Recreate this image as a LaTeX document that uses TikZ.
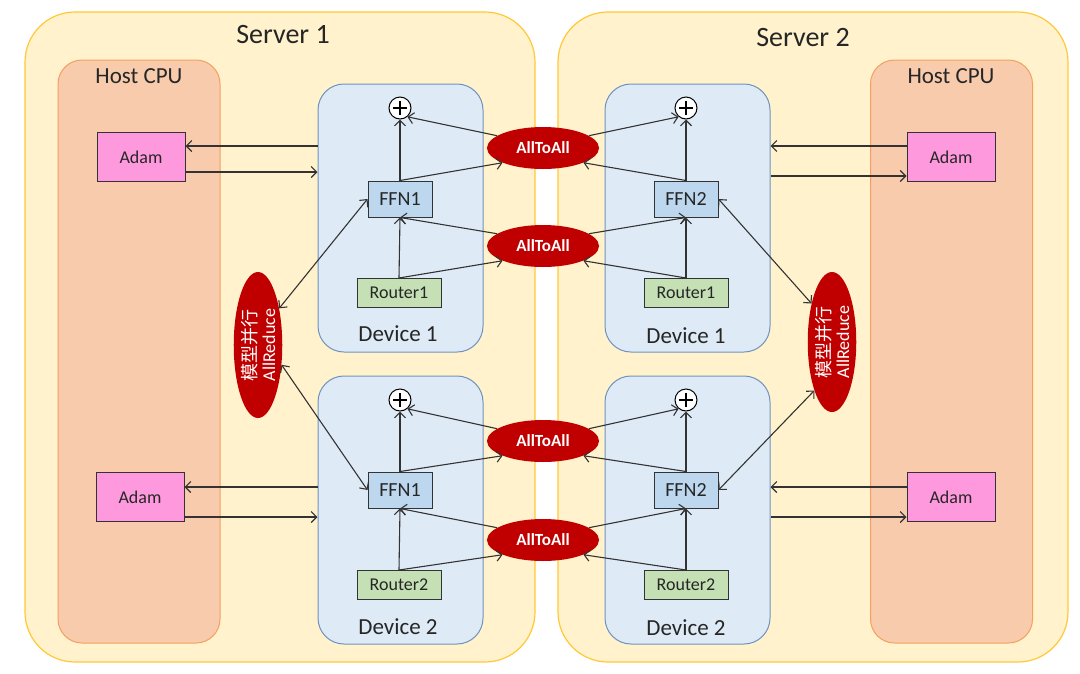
\documentclass[tikz,border=0pt]{standalone}
\usepackage{fontspec}
\setmainfont{Carlito}
\newfontfamily\cjkfont{Noto Sans CJK SC}
\usepackage{xcolor}
\usetikzlibrary{shapes.geometric,arrows.meta,calc,positioning}

\definecolor{serverfill}{HTML}{FFF2CC}
\definecolor{serverline}{HTML}{FFC936}
\definecolor{hostfill}{HTML}{F8CBAD}
\definecolor{hostline}{HTML}{F4A060}
\definecolor{devfill}{HTML}{DEEBF7}
\definecolor{devline}{HTML}{7092BE}
\definecolor{ffnfill}{HTML}{BDD7EE}
\definecolor{routerfill}{HTML}{C5E0B4}
\definecolor{adamfill}{HTML}{FF99DD}
\definecolor{commred}{HTML}{C00000}
\definecolor{linkgray}{HTML}{333333}
\definecolor{textgray}{HTML}{262626}

\begin{document}
\begin{tikzpicture}[x=1pt, y=-1pt,
  >={Straight Barb[length=5.5pt,width=11pt]},
  server/.style={draw=serverline, fill=serverfill, line width=1.2pt, rounded corners=50pt, minimum width=510pt, minimum height=650pt},
  host/.style={draw=hostline, fill=hostfill, line width=1pt, rounded corners=24pt, minimum width=162pt, minimum height=583pt},
  device/.style={draw=devline, fill=devfill, line width=1pt, rounded corners=26pt, minimum width=165pt, minimum height=268pt},
  bigtitle/.style={text=textgray, font=\fontsize{28}{32}\selectfont},
  title/.style={text=textgray, font=\fontsize{23}{26}\selectfont},
  ffn/.style={draw=linkgray, fill=ffnfill, line width=1pt, minimum width=64pt, minimum height=36pt, inner sep=0pt, text=textgray, font=\fontsize{20}{22}\selectfont},
  router/.style={draw=linkgray, fill=routerfill, line width=1pt, minimum width=84pt, minimum height=29pt, inner sep=0pt, text=textgray, font=\fontsize{18}{20}\selectfont},
  adam/.style={draw=linkgray, fill=adamfill, line width=1pt, minimum width=88pt, minimum height=49pt, inner sep=0pt, text=textgray, font=\fontsize{18}{20}\selectfont},
  alltoall/.style={ellipse, fill=commred, text=white, minimum width=112pt, minimum height=42pt, inner sep=0pt, font=\bfseries\fontsize{17}{19}\selectfont},
  allreduce/.style={ellipse, fill=commred, text=white, rotate=90, minimum width=146pt, minimum height=44pt, inner sep=0pt, align=center, font=\fontsize{18}{19}\selectfont},
  sum/.style={circle, draw=black, fill=white, line width=1pt, minimum size=22pt, inner sep=0pt,
    path picture={\draw[line width=1.9pt] ($(path picture bounding box.center)+(-7,0)$) -- ($(path picture bounding box.center)+(7,0)$)
      ($(path picture bounding box.center)+(0,-7)$) -- ($(path picture bounding box.center)+(0,7)$);}},
  link/.style={draw=linkgray, line width=1.1pt, ->}]

\fill[white] (0,0) rectangle (1080,673);
\useasboundingbox (0,0) rectangle (1080,673);

\node[server] (srv1) at (280,337) {};
\node[server] (srv2) at (813,337) {};
\node[bigtitle] (srv1name) at (283,35) {Server 1};
\node[bigtitle] (srv2name) at (803,38) {Server 2};

\node[host] (host1) at (139,351.5) {};
\node[host] (host2) at (951.5,351.5) {};
\node[title] (host1name) at (139,76) {Host CPU};
\node[title] (host2name) at (951,76) {Host CPU};

\node[device] (dev11) at (400.5,218) {};
\node[device] (dev12) at (400.5,510) {};
\node[device] (dev21) at (687.5,218) {};
\node[device] (dev22) at (687.5,510) {};
\node[title] (dev11name) at (398,334) {Device 1};
\node[title] (dev12name) at (398,627) {Device 2};
\node[title] (dev21name) at (686,336) {Device 1};
\node[title] (dev22name) at (686,628) {Device 2};

\node[sum] (sum11) at (400,108) {};
\node[sum] (sum12) at (400,400) {};
\node[sum] (sum21) at (686,108) {};
\node[sum] (sum22) at (686,400) {};

\node[ffn] (ffn11) at (400,199) {FFN1};
\node[ffn] (ffn12) at (400,490) {FFN1};
\node[ffn] (ffn21) at (686,199) {FFN2};
\node[ffn] (ffn22) at (686,490) {FFN2};

\node[router] (rt11) at (399,293) {Router1};
\node[router] (rt12) at (399,585) {Router2};
\node[router] (rt21) at (686,293) {Router1};
\node[router] (rt22) at (686,585) {Router2};

\node[alltoall] (a2a1) at (543,148) {AllToAll};
\node[alltoall] (a2a2) at (543,246) {AllToAll};
\node[alltoall] (a2a3) at (543,441) {AllToAll};
\node[alltoall] (a2a4) at (543,540) {AllToAll};

\node[adam] (adam11) at (141,157) {Adam};
\node[adam] (adam12) at (140,497) {Adam};
\node[adam] (adam21) at (951,157) {Adam};
\node[adam] (adam22) at (951,497) {Adam};

\node[allreduce] (ar1) at (258,345) {{\cjkfont 模型并行}\\AllReduce};
\node[allreduce, minimum width=140pt] (ar2) at (832,342) {{\cjkfont 模型并行}\\AllReduce};

\draw[link] (ffn11.north) -- (sum11.south);
\draw[link] (rt11.north) -- (ffn11.south);
\draw[link] (ffn11.north) -- (a2a1.200);
\draw[link] (a2a1.165) -- (sum11.-50);
\draw[link] (rt11.north) -- (a2a2.200);
\draw[link] (a2a2.165) -- (ffn11.south);

\draw[link] (ffn21.north) -- (sum21.south);
\draw[link] (rt21.north) -- (ffn21.south);
\draw[link] (ffn21.north) -- (a2a1.-20);
\draw[link] (a2a1.15) -- (sum21.-130);
\draw[link] (rt21.north) -- (a2a2.-20);
\draw[link] (a2a2.15) -- (ffn21.south);

\draw[link] (ffn12.north) -- (sum12.south);
\draw[link] (rt12.north) -- (ffn12.south);
\draw[link] (ffn12.north) -- (a2a3.200);
\draw[link] (a2a3.165) -- (sum12.-50);
\draw[link] (rt12.north) -- (a2a4.200);
\draw[link] (a2a4.165) -- (ffn12.south);

\draw[link] (ffn22.north) -- (sum22.south);
\draw[link] (rt22.north) -- (ffn22.south);
\draw[link] (ffn22.north) -- (a2a3.-20);
\draw[link] (a2a3.15) -- (sum22.-130);
\draw[link] (rt22.north) -- (a2a4.-20);
\draw[link] (a2a4.15) -- (ffn22.south);

\draw[link, <->] (ffn11.west) -- (ar1.-30);
\draw[link, <->] (ffn12.west) -- (ar1.-130);
\draw[link, <->] (ffn21.east) -- (ar2.28);
\draw[link, <->] (ffn22.east) -- (ar2.160);

\path (adam11.east) ++(0,-11) coordinate (in11) ++(0,26) coordinate (out11);
\path (adam12.east) ++(0,-10) coordinate (in12) ++(0,30) coordinate (out12);
\path (adam21.west) ++(0,-11) coordinate (in21) ++(0,30) coordinate (out21);
\path (adam22.west) ++(0,-10) coordinate (in22) ++(0,30) coordinate (out22);
\draw[link] (dev11.west |- in11) -- (in11);
\draw[link] (out11) -- (dev11.west |- out11);
\draw[link] (dev12.west |- in12) -- (in12);
\draw[link] (out12) -- (dev12.west |- out12);
\draw[link] (in21) -- (dev21.east |- in21);
\draw[link] (dev21.east |- out21) -- (out21);
\draw[link] (in22) -- (dev22.east |- in22);
\draw[link] (dev22.east |- out22) -- (out22);
\end{tikzpicture}
\end{document}
